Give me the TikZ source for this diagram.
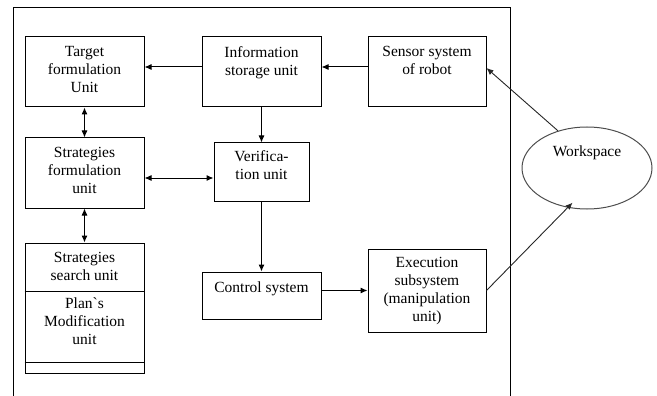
\documentclass[tikz,border=0pt]{standalone}
\usepackage{fontspec}
\setmainfont{LiberationSerif}[Extension=.ttf, UprightFont=*-Regular, BoldFont=*-Bold, ItalicFont=*-Italic, BoldItalicFont=*-BoldItalic]
\usetikzlibrary{arrows.meta,shapes.geometric}
\begin{document}
\begin{tikzpicture}[x=1pt,y=-1pt,
  box/.style={draw, line width=1pt, inner sep=0pt, rectangle},
  txt/.style={font=\fontsize{15.5}{18}\selectfont, align=center, inner sep=0pt, anchor=north},
  arr/.style={line width=1pt, -{Latex[length=7pt,width=6pt]}},
  darr/.style={line width=1pt, {Latex[length=7pt,width=6pt]}-{Latex[length=7pt,width=6pt]}},
  thinarr/.style={line width=0.9pt, draw=black!85, -{Latex[length=7pt,width=6pt]}}]
\useasboundingbox (0,0) rectangle (657,396);
% outer frame
\coordinate (fbl) at (13,396);
\coordinate (ftl) at (13,8);
\coordinate (ftr) at (510,8);
\coordinate (fbr) at (510,396);
\draw[line width=1pt] (fbl) -- (ftl) -- (ftr) -- (fbr);
% boxes
\node[box, minimum width=119pt, minimum height=70pt] (target) at (84.5,72) {};
\node[box, minimum width=119pt, minimum height=70pt] (info) at (261.5,72) {};
\node[box, minimum width=118pt, minimum height=70pt] (sensor) at (427,72) {};
\node[box, minimum width=119pt, minimum height=70pt] (strat) at (84.5,173) {};
\node[box, minimum width=95pt, minimum height=58pt] (verif) at (261.5,172) {};
\node[box, minimum width=119pt, minimum height=130pt] (search) at (84.5,308) {};
\node[box, minimum width=119pt, minimum height=47pt] (control) at (261.5,295.5) {};
\node[box, minimum width=118pt, minimum height=83pt] (exec) at (427,290.5) {};
\node[draw=black!70, line width=1pt, ellipse, minimum width=130pt, minimum height=82pt, inner sep=0pt] (ws) at (587,168) {};
% inner separators of the search box
\draw[line width=1pt] (search.west |- 0,291) -- (search.east |- 0,291);
\draw[line width=1pt] (search.west |- 0,362) -- (search.east |- 0,362);
% texts
\node[txt] (targett) at (84.5,46) {Target\\formulation\\Unit};
\node[txt] (infot) at (261.5,46) {Information\\storage unit};
\node[txt] (sensort) at (427,46) {Sensor system\\of robot};
\node[txt] (stratt) at (84.5,147) {Strategies\\formulation\\unit};
\node[txt] (veroft) at (261.5,150) {Verifica-\\tion unit};
\node[txt] (searcht) at (84.5,252) {Strategies\\search unit};
\node[txt] (plant) at (84.5,298) {Plan\textasciigrave s\\Modification\\unit};
\node[txt] (controlt) at (261.5,282) {Control system};
\node[txt] (exect) at (427,257) {Execution\\subsystem\\(manipulation\\unit)};
\node[txt] (wst) at (587,146) {Workspace};
% connectors
\draw[arr] ([yshift=5pt]info.west) -- ([yshift=5pt]target.east);
\draw[arr] ([yshift=5pt]sensor.west) -- ([yshift=5pt]info.east);
\draw[arr] (info.south) -- (verif.north);
\draw[darr] (target.south) -- (strat.north);
\draw[darr] ([yshift=-5pt]strat.east) -- ([yshift=-5pt]strat.east -| verif.west);
\draw[darr] (strat.south) -- (search.north);
\draw[arr] (verif.south) -- (control.north);
\draw[arr] (control.east |- exec.west) -- (exec.west);
\draw[thinarr, shorten >=-7pt] (exec.east) -- (ws.244);
\draw[thinarr] (ws.128) -- ([yshift=4pt]sensor.east);
\end{tikzpicture}
\end{document}
